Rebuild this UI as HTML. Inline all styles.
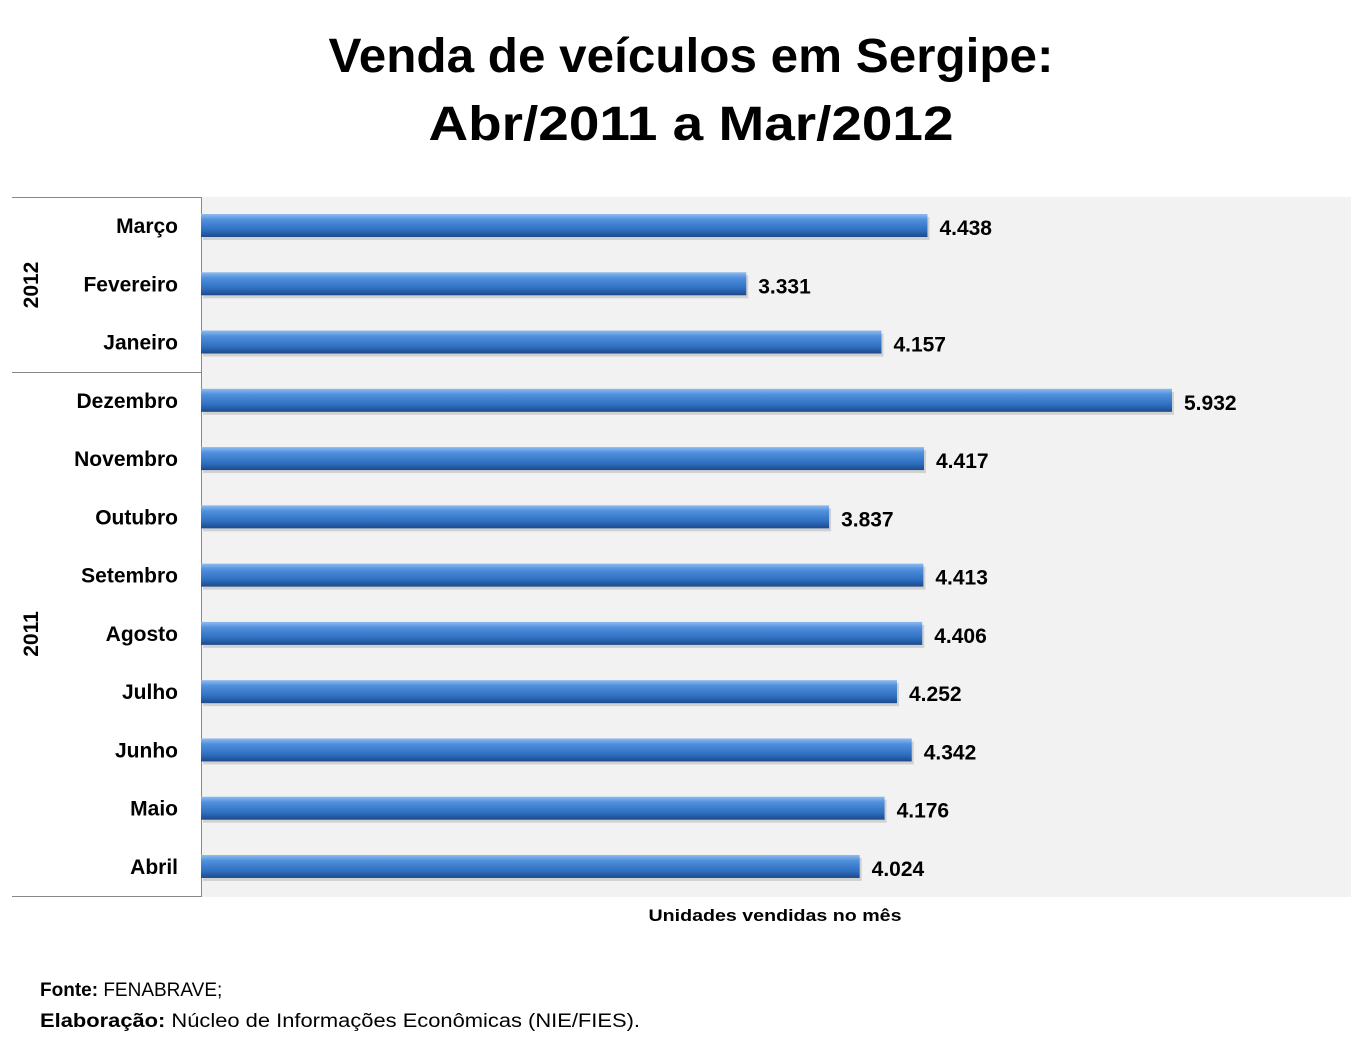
<!DOCTYPE html>
<html><head><meta charset="utf-8"><style>body{margin:0;background:#fff}svg{display:block}</style></head><body>
<svg width="1372" height="1043" viewBox="0 0 1372 1043" xmlns="http://www.w3.org/2000/svg" font-family="Liberation Sans, sans-serif">
<defs>
<linearGradient id="g" x1="0" y1="0" x2="0" y2="1">
<stop offset="0" stop-color="#8fbcef"/><stop offset="0.25" stop-color="#4f8fdc"/><stop offset="0.7" stop-color="#2f6fc0"/><stop offset="1" stop-color="#1c4a8a"/>
</linearGradient>
</defs>
<text x="691" y="72" text-anchor="middle" font-size="48" font-weight="bold" textLength="725" lengthAdjust="spacingAndGlyphs">Venda de veículos em Sergipe:</text>
<text x="691" y="140" text-anchor="middle" font-size="48" font-weight="bold" textLength="525" lengthAdjust="spacingAndGlyphs">Abr/2011 a Mar/2012</text>
<rect x="201" y="197" width="1150" height="700" fill="#f2f2f2"/>
<g stroke="#888" stroke-width="1">
<line x1="12" y1="197.5" x2="201" y2="197.5"/>
<line x1="12" y1="372.5" x2="201" y2="372.5"/>
<line x1="12" y1="896.5" x2="201" y2="896.5"/>
<line x1="201.5" y1="197" x2="201.5" y2="897"/>
</g>
<g font-size="21" font-weight="bold" fill="#000">
<text transform="translate(38,285) rotate(-90)" text-anchor="middle">2012</text>
<text transform="translate(38,634) rotate(-90)" text-anchor="middle">2011</text>
</g>
<g id="bars" font-size="21" font-weight="bold"></g>
<text x="775" y="921" text-anchor="middle" font-size="17" font-weight="bold" textLength="253" lengthAdjust="spacingAndGlyphs">Unidades vendidas no mês</text>
<text x="40" y="996" font-size="19"><tspan font-weight="bold">Fonte:</tspan> FENABRAVE;</text>
<text x="40" y="1027" font-size="19" textLength="600" lengthAdjust="spacingAndGlyphs"><tspan font-weight="bold">Elaboração:</tspan> Núcleo de Informações Econômicas (NIE/FIES).</text>
</svg>
<script>
var d=[["Março",4438],["Fevereiro",3331],["Janeiro",4157],["Dezembro",5932],["Novembro",4417],["Outubro",3837],["Setembro",4413],["Agosto",4406],["Julho",4252],["Junho",4342],["Maio",4176],["Abril",4024]];
var g=document.getElementById('bars'),s='';
d.forEach(function(r,i){var c=226+i*58.27,w=r[1]*971/5932,e=201+w;
s+='<rect x="203" y="'+(c-9)+'" width="'+w+'" height="23" fill="#bbb" opacity="0.6"/>';
s+='<rect x="201" y="'+(c-12)+'" width="'+w+'" height="23" fill="url(#g)"/>';
s+='<text x="178" y="'+(c+7)+'" text-anchor="end">'+r[0]+'</text>';
s+='<text x="'+(e+12)+'" y="'+(c+9)+'">'+r[1].toString().replace(/(\d)(\d{3})$/,'$1.$2')+'</text>';});
g.innerHTML=s;
</script>
</body></html>
